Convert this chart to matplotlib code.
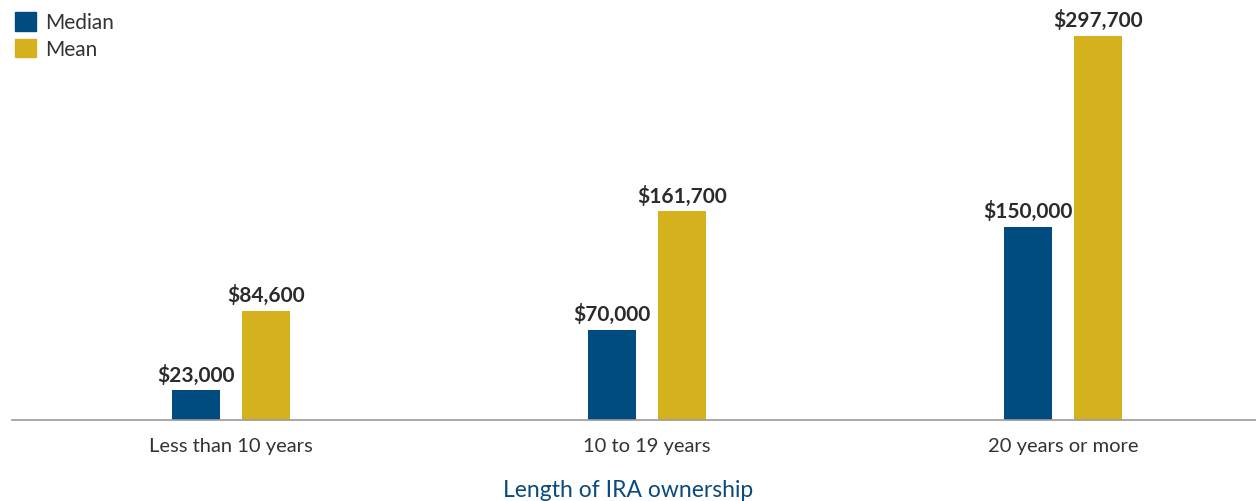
import matplotlib
matplotlib.use("Agg")
import matplotlib.pyplot as plt
from matplotlib.patches import Patch
import numpy as np

categories = ["Less than 10 years", "10 to 19 years", "20 years or more"]
median = [23000, 70000, 150000]
mean = [84600, 161700, 297700]

blue = "#004b7f"
gold = "#d4b11d"

plt.rcParams["font.family"] = ["Lato", "DejaVu Sans"]

fig = plt.figure(figsize=(12.56, 5.02), dpi=100)
ax = fig.add_axes([0, 1 - 421 / 502, 1, 421 / 502])

x = np.arange(len(categories))
w = 48 / 416
off = 35 / 416
b1 = ax.bar(x - off, median, w, color=blue)
b2 = ax.bar(x + off, mean, w, color=gold)

for bars, vals in ((b1, median), (b2, mean)):
    for b, v in zip(bars, vals):
        ax.annotate(f"${v:,.0f}", (b.get_x() + b.get_width() / 2, v),
                    xytext=(0, 4), textcoords="offset points",
                    ha="center", va="bottom", fontsize=15,
                    fontweight="bold", color="#2b2b2b")

ax.set_xlim((0 - 231) / 416, (1256 - 231) / 416)
ax.set_ylim(0, 421 / (384 / 297700))
ax.set_yticks([])
ax.set_xticks(x)
ax.set_xticklabels(categories, fontsize=14.5, color="#333333")
ax.tick_params(axis="x", length=0, pad=12)
for s in ("top", "right", "left"):
    ax.spines[s].set_visible(False)
ax.spines["bottom"].set_color("#9a9a9a")
ax.spines["bottom"].set_linewidth(1.2)
ax.spines["bottom"].set_bounds((12 - 231) / 416, (1256 - 231) / 416)
ax.set_xlabel("Length of IRA ownership", fontsize=16.5, color="#0b4a7c",
              labelpad=18)

handles = [Patch(color=blue, label="Median"), Patch(color=gold, label="Mean")]
fig.legend(handles=handles, loc="upper left",
           bbox_to_anchor=(15 / 1256, 1 - 13 / 502),
           frameon=False, fontsize=15, handlelength=1.0, handleheight=1.0,
           handletextpad=0.45, labelspacing=0.3, borderaxespad=0,
           borderpad=0, labelcolor="#333333")

fig.savefig("out.png", dpi=100)
